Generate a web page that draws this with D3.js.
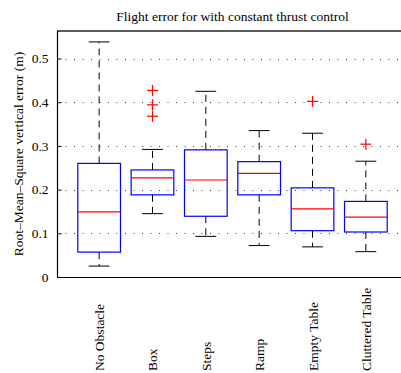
<!DOCTYPE html>
<html>
<head>
<meta charset="utf-8">
<script src="https://cdn.jsdelivr.net/npm/d3@7"></script>
<style>
  body { margin: 0; background: #fff; }
  text { font-family: "Liberation Serif", "DejaVu Serif", serif; fill: #000; }
</style>
</head>
<body>
<div id="chart"></div>
<script>
// categories and box statistics
const categories = ["No Obstacle", "Box", "Steps", "Ramp", "Empty Table", "Cluttered Table"];
const lowerWhisker = [0.025, 0.145, 0.093, 0.072, 0.069, 0.058];
const q1 = [0.057, 0.188, 0.139, 0.188, 0.106, 0.103];
const median = [0.149, 0.227, 0.222, 0.237, 0.156, 0.137];
const q3 = [0.260, 0.245, 0.291, 0.264, 0.204, 0.173];
const upperWhisker = [0.538, 0.292, 0.425, 0.335, 0.329, 0.265];
const outliers = [[], [0.427, 0.394, 0.368], [], [], [0.402], [0.304]];
const yTicks = [0, 0.1, 0.2, 0.3, 0.4, 0.5];
const yTickLabels = ["0", "0.1", "0.2", "0.3", "0.4", "0.5"];

const width = 401, height = 373;
const plotL = 57, plotR = 408, plotT = 31, plotB = 277;
const fontSize = "13.5px";

const svg = d3.select("#chart").append("svg")
  .attr("width", width)
  .attr("height", height);

const x = d3.scaleLinear().domain([0.21, 6.79]).range([plotL, plotR]);
const y = d3.scaleLinear().domain([0, 0.563]).range([plotB, plotT]);

const boxW = 0.4;   // half width, in category units
const capW = 0.195;

// dotted grid
svg.append("g")
  .selectAll("line")
  .data(yTicks)
  .enter()
  .append("line")
  .attr("x1", plotL)
  .attr("x2", plotR)
  .attr("y1", d => Math.round(y(d)) + 0.5)
  .attr("y2", d => Math.round(y(d)) + 0.5)
  .attr("stroke", "#444")
  .attr("stroke-width", 1)
  .attr("stroke-dasharray", "1,7.5");

// y axis, ticks pointing inward
const yAxis = d3.axisLeft(y)
  .tickValues(yTicks)
  .tickFormat((d, i) => yTickLabels[i])
  .tickSizeInner(-4)
  .tickSizeOuter(0)
  .tickPadding(9);
const ya = svg.append("g")
  .attr("transform", "translate(" + (plotL + 0.5) + ",0)")
  .call(yAxis);
ya.select(".domain").remove();
ya.selectAll("line").attr("stroke", "#000");
ya.selectAll("text")
  .style("font-family", "Liberation Serif")
  .style("font-size", fontSize);

// frame (top, left, bottom)
svg.append("line").attr("x1", plotL).attr("x2", plotR).attr("y1", plotT).attr("y2", plotT)
  .attr("stroke", "#222").attr("stroke-width", 1.6);
svg.append("line").attr("x1", plotL + 0.5).attr("x2", plotL + 0.5).attr("y1", plotT).attr("y2", plotB)
  .attr("stroke", "#000").attr("stroke-width", 1.2);
svg.append("line").attr("x1", plotL).attr("x2", plotR).attr("y1", plotB + 0.5).attr("y2", plotB + 0.5)
  .attr("stroke", "#000").attr("stroke-width", 1.2);

// boxes
const idx = d3.range(categories.length).map(i => i + 1);
const g = svg.append("g");

// whiskers (dashed)
g.selectAll(".wu").data(idx).enter().append("line")
  .attr("x1", d => x(d)).attr("x2", d => x(d))
  .attr("y1", d => y(q3[d - 1])).attr("y2", d => y(upperWhisker[d - 1]))
  .attr("stroke", "#000").attr("stroke-dasharray", "7,5");
g.selectAll(".wl").data(idx).enter().append("line")
  .attr("x1", d => x(d)).attr("x2", d => x(d))
  .attr("y1", d => y(q1[d - 1])).attr("y2", d => y(lowerWhisker[d - 1]))
  .attr("stroke", "#000").attr("stroke-dasharray", "7,5");

// caps
g.selectAll(".cu").data(idx).enter().append("line")
  .attr("x1", d => x(d - capW)).attr("x2", d => x(d + capW))
  .attr("y1", d => y(upperWhisker[d - 1])).attr("y2", d => y(upperWhisker[d - 1]))
  .attr("stroke", "#000");
g.selectAll(".cl").data(idx).enter().append("line")
  .attr("x1", d => x(d - capW)).attr("x2", d => x(d + capW))
  .attr("y1", d => y(lowerWhisker[d - 1])).attr("y2", d => y(lowerWhisker[d - 1]))
  .attr("stroke", "#000");

// box rectangles
g.selectAll("rect").data(idx).enter().append("rect")
  .attr("x", d => x(d - boxW))
  .attr("y", d => y(q3[d - 1]))
  .attr("width", d => x(d + boxW) - x(d - boxW))
  .attr("height", d => y(q1[d - 1]) - y(q3[d - 1]))
  .attr("fill", "none")
  .attr("stroke", "#0000ff")
  .attr("stroke-width", 1.2);

// medians
g.selectAll(".med").data(idx).enter().append("line")
  .attr("x1", d => x(d - boxW)).attr("x2", d => x(d + boxW))
  .attr("y1", d => y(median[d - 1])).attr("y2", d => y(median[d - 1]))
  .attr("stroke", "#ff0000")
  .attr("stroke-width", 1.2);

// outliers as '+'
const pts = [];
outliers.forEach((arr, i) => arr.forEach(v => pts.push({ c: i + 1, v: v })));
const plus = g.selectAll(".out").data(pts).enter().append("g")
  .attr("transform", d => "translate(" + x(d.c) + "," + y(d.v) + ")");
plus.append("line").attr("x1", -5.5).attr("x2", 5.5).attr("y1", 0).attr("y2", 0)
  .attr("stroke", "#ff0000").attr("stroke-width", 1.2);
plus.append("line").attr("x1", 0).attr("x2", 0).attr("y1", -5.5).attr("y2", 5.5)
  .attr("stroke", "#ff0000").attr("stroke-width", 1.2);

// category labels, rotated
svg.append("g").selectAll("text").data(idx).enter().append("text")
  .attr("transform", d => "translate(" + (x(d) + 5) + ",371) rotate(-90)")
  .attr("text-anchor", "start")
  .style("font-size", fontSize)
  .text(d => categories[d - 1]);

// title
svg.append("text")
  .attr("x", (plotL + plotR) / 2)
  .attr("y", 21)
  .attr("text-anchor", "middle")
  .style("font-size", fontSize)
  .text("Flight error for with constant thrust control");

// y label
svg.append("text")
  .attr("transform", "translate(23," + ((plotT + plotB) / 2) + ") rotate(-90)")
  .attr("text-anchor", "middle")
  .style("font-size", fontSize)
  .text("Root\u2013Mean\u2013Square vertical error (m)");
</script>
</body>
</html>
